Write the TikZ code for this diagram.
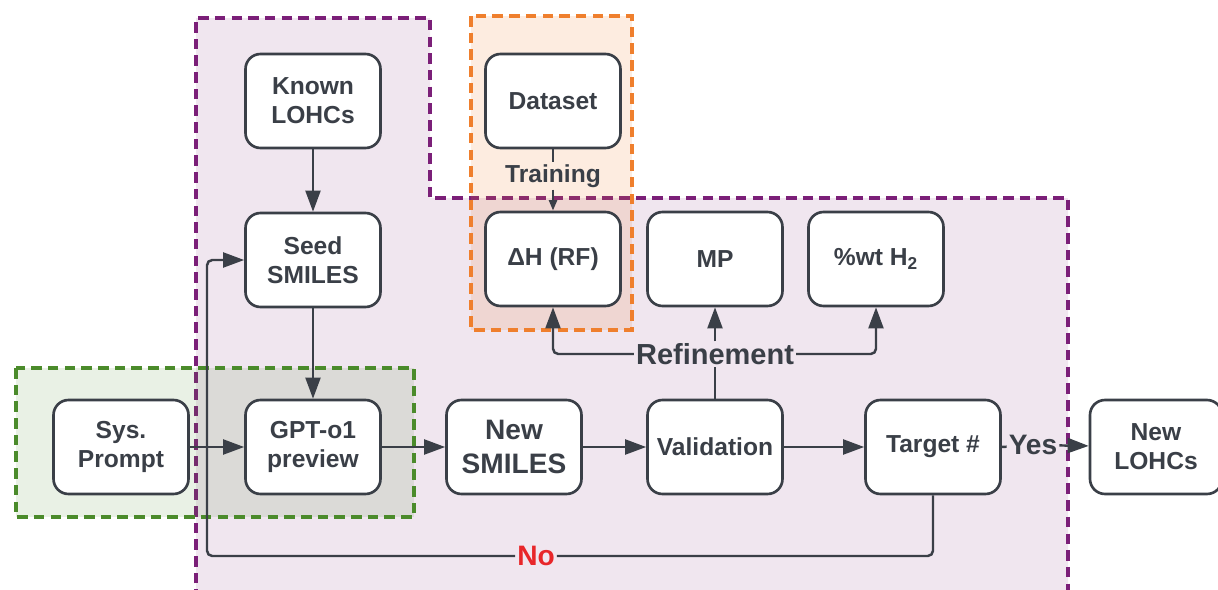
\documentclass[tikz,border=0pt]{standalone}
\usepackage{fontspec}
\setmainfont{Liberation Sans}
\usetikzlibrary{arrows.meta}
\definecolor{ink}{HTML}{3A3F47}
\definecolor{loopline}{HTML}{7B1F78}
\definecolor{loopfill}{HTML}{F0E6EF}
\definecolor{rfline}{HTML}{EF7F2D}
\definecolor{promptline}{HTML}{4B8B2B}
\definecolor{nored}{HTML}{E8262A}

\begin{document}
\begin{tikzpicture}[x=0.02cm,y=-0.02cm,
  box/.style={draw=ink,line width=1.5pt,fill=white,rounded corners=0.3cm,
    minimum width=2.7cm,minimum height=1.88cm,align=center,text=ink,
    font=\fontsize{14}{16.5}\selectfont\bfseries},
  wire/.style={draw=ink,line width=1.4pt,rounded corners=3pt},
  flow/.style={wire,-{Triangle[length=12pt,width=8.5pt]}},
  region/.style={line width=1.8pt,dash pattern=on 6pt off 3.5pt},
  tag/.style={text=ink,inner sep=1pt,font=\fontsize{16}{18}\selectfont\bfseries}
]
\useasboundingbox (0,0) rectangle (1218,589);
\begin{scope}
\clip (0,0) rectangle (1218,589);
% generation loop
\fill[loopfill] (196,18) -- (430,18) -- (430,198) -- (1068,198) -- (1068,600) -- (196,600) -- cycle;
\draw[region,draw=loopline] (196,600) -- (196,18) -- (430,18) -- (430,198) -- (1068,198) -- (1068,600);
% property model
\draw[region,draw=rfline,fill=rfline,fill opacity=0.15] (471,16) rectangle (632,330);
% prompting
\draw[region,draw=promptline,fill=promptline,fill opacity=0.12] (16,368) rectangle (414,517);
\end{scope}

\node[box] (known) at (313,101) {Known\\LOHCs};
\node[box] (seed) at (313,260) {Seed\\SMILES};
\node[box] (sys) at (121,447) {Sys.\\Prompt};
\node[box] (gpt) at (313,447) {GPT-o1\\preview};
\node[box,font=\fontsize{16}{19.5}\selectfont\bfseries] (new) at (514,447) {New\\SMILES};
\node[box] (valid) at (715,447) {Validation};
\node[box] (target) at (933,447) {Target \#};
\node[box,minimum width=2.64cm] (lohc) at (1156,447) {New\\LOHCs};
\node[box] (data) at (553,101) {Dataset};
\node[box] (dh) at (553,259) {ΔH (RF)};
\node[box] (mp) at (715,259) {MP};
\node[box] (wt) at (876,259) {\%wt H\textsubscript{2}};

\node[tag,font=\fontsize{14}{16}\selectfont\bfseries] (train) at (553,176) {Training};
\node[tag,font=\fontsize{16.5}{18}\selectfont\bfseries] (refine) at (715,354) {Refinement};
\node[tag] (yes) at (1033,445) {Yes};
\node[tag,text=nored] (no) at (536,556) {No};
\coordinate (back) at (207,556);

\draw[flow] (known) -- (seed);
\draw[flow] (seed) -- (gpt);
\draw[flow] (sys) -- (gpt);
\draw[flow] (gpt) -- (new);
\draw[flow] (new) -- (valid);
\draw[flow] (valid) -- (target);
\draw[wire] (target.east) -- (yes);
\draw[flow] (yes) -- (lohc);
\draw[wire] (data) -- (train);
\draw[wire,-{Triangle[length=6pt,width=4.5pt]}] (train) -- (dh);
\draw[wire] (valid) -- (refine);
\draw[flow] (refine) -- (mp);
\draw[flow] (refine.west) -| (dh);
\draw[flow] (refine.east) -| (wt);
\draw[wire] (target) |- (no);
\draw[flow] (no) -- (back) |- (seed);
\end{tikzpicture}
\end{document}
